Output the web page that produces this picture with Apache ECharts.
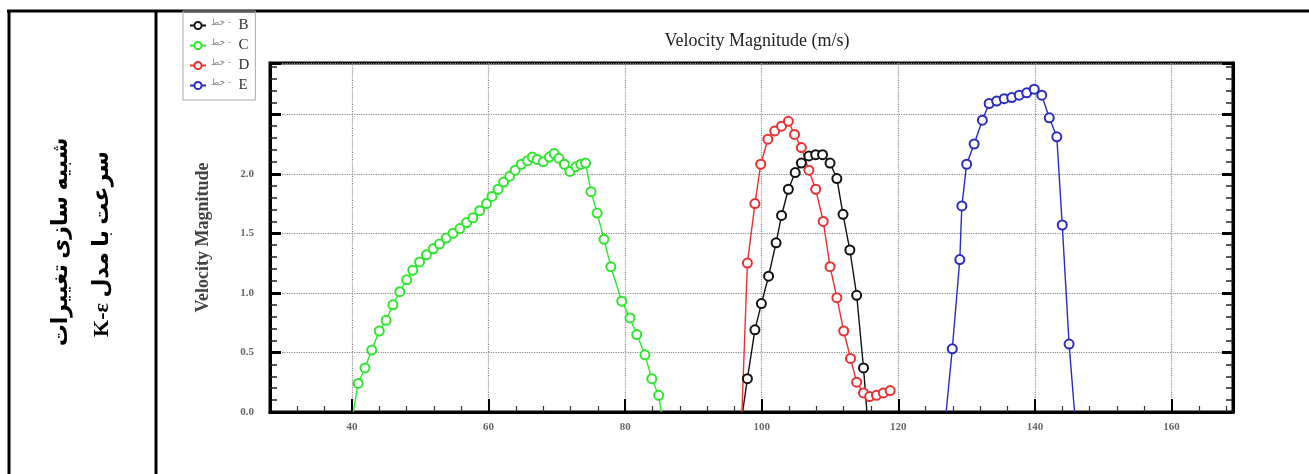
<!DOCTYPE html>
<html>
<head>
<meta charset="utf-8">
<script src="https://cdn.jsdelivr.net/npm/echarts@6/dist/echarts.min.js"></script>
<style>
  html, body { margin: 0; padding: 0; background: #fff; }
  #main { width: 1309px; height: 474px; }
</style>
</head>
<body>
<div id="main"></div>
<script>
// section B (black)
const bX = [97.2, 97.9, 99.0, 99.95, 101.0, 102.1, 102.9, 103.9, 104.9, 105.8, 106.9, 107.9, 108.9, 110.0, 111.0, 111.9, 112.9, 113.9, 114.9, 115.4];
const bY = [0.0, 0.28, 0.69, 0.91, 1.14, 1.42, 1.65, 1.87, 2.01, 2.09, 2.15, 2.16, 2.16, 2.09, 1.96, 1.66, 1.36, 0.98, 0.37, 0.0];

// section C (green)
const cX = [40.2, 40.9, 41.9, 42.9, 44.0, 45.0, 46.0, 47.0, 48.0, 48.9, 49.9, 50.9, 51.9, 52.8, 53.8, 54.8, 55.8, 56.8, 57.7, 58.7,
            59.7, 60.5, 61.4, 62.2, 63.1, 63.9, 64.8, 65.7, 66.4, 67.1, 68.0, 68.9, 69.6, 70.3, 71.1, 71.9, 72.8, 73.5, 74.2,
            75.0, 75.9, 76.9, 77.9, 79.5, 80.7, 81.7, 82.9, 83.9, 84.9, 85.3];
const cY = [0.0, 0.24, 0.37, 0.52, 0.68, 0.77, 0.90, 1.01, 1.11, 1.19, 1.26, 1.32, 1.37, 1.41, 1.46, 1.50, 1.54, 1.59, 1.63, 1.69,
            1.75, 1.81, 1.87, 1.93, 1.98, 2.03, 2.08, 2.11, 2.14, 2.12, 2.10, 2.14, 2.17, 2.13, 2.08, 2.02, 2.06, 2.08, 2.09,
            1.85, 1.67, 1.45, 1.22, 0.93, 0.79, 0.65, 0.48, 0.28, 0.14, 0.0];

// section D (red)
const dX = [97.1, 97.9, 99.0, 99.85, 100.9, 101.9, 102.9, 103.9, 104.8, 105.8, 106.9, 107.9, 109.0, 110.0, 111.0, 112.0, 113.0, 113.9, 114.9, 115.8, 116.8, 117.8, 118.8];
const dY = [0.0, 1.25, 1.75, 2.08, 2.29, 2.36, 2.40, 2.44, 2.33, 2.22, 2.03, 1.87, 1.60, 1.22, 0.96, 0.68, 0.45, 0.25, 0.16, 0.13, 0.14, 0.16, 0.18];

// section E (blue)
const eX = [127.0, 127.9, 129.0, 129.3, 130.0, 131.1, 132.3, 133.3, 134.4, 135.5, 136.6, 137.7, 138.8, 139.9, 141.0, 142.1, 143.2, 144.0, 145.0, 145.8];
const eY = [0.0, 0.53, 1.28, 1.73, 2.08, 2.25, 2.45, 2.59, 2.61, 2.63, 2.64, 2.66, 2.68, 2.71, 2.66, 2.47, 2.31, 1.57, 0.57, 0.0];

const seriesNames = ['B', 'C', 'D', 'E'];
const seriesColors = ['#111111', '#2ee62e', '#e83232', '#2b2bbf'];

const titleText = 'Velocity Magnitude (m/s)';
const yAxisTitle = 'Velocity Magnitude';
const sideLine1 = 'شبیه سازی تغییرات';
const sideLine2 = '\u202Bسرعت با مدل K-ε\u202C';
const legendPrefix = 'خط -';

const toPoints = (xs, ys) => xs.map((x, i) => {
    const item = { value: [x, ys[i]] };
    if (ys[i] === 0) item.symbol = 'none';
    return item;
});

const allData = [toPoints(bX, bY), toPoints(cX, cY), toPoints(dX, dY), toPoints(eX, eY)];

const myChart = echarts.init(document.getElementById('main'));

const valueAxisY = (position, showLabels) => ({
    type: 'value',
    position: position,
    min: 0,
    max: 2.93,
    interval: 0.5,
    axisLine: { show: true, lineStyle: { color: '#000', width: 3 } },
    axisTick: { show: true, inside: true, length: 11, lineStyle: { color: '#000', width: 3 } },
    minorTick: { show: true, splitNumber: 5, length: 7, lineStyle: { color: '#222', width: 1.5 } },
    splitLine: { show: showLabels, lineStyle: { color: '#8a8a8a', type: 'dotted', width: 1.2 } },
    axisLabel: {
        show: showLabels,
        margin: 16,
        fontFamily: 'Liberation Serif',
        fontSize: 11,
        fontWeight: 'bold',
        color: '#666',
        formatter: v => (v > 2.01 ? '' : v.toFixed(1))
    }
});

const option = {
    backgroundColor: '#fff',
    animation: false,
    title: {
        text: titleText,
        left: 752,
        top: 27,
        textAlign: 'center',
        textStyle: { fontFamily: 'Liberation Serif', fontSize: 18, fontWeight: 'normal', color: '#222' }
    },
    legend: {
        orient: 'vertical',
        left: 183,
        top: 11,
        width: 72,
        padding: [7, 6, 7, 6],
        itemGap: 5,
        itemWidth: 16,
        itemHeight: 9,
        borderColor: '#aaa',
        borderWidth: 1,
        data: seriesNames,
        formatter: name => '{p|' + legendPrefix + '} {n|' + name + '}',
        textStyle: {
            rich: {
                p: { fontSize: 9, color: '#888', fontFamily: 'DejaVu Sans', padding: [0, 0, 5, 0] },
                n: { fontSize: 15, color: '#333', fontFamily: 'Liberation Serif', padding: [0, 0, 0, 4] }
            }
        }
    },
    grid: {
        left: 270,
        top: 63,
        right: 76,
        bottom: 62,
        show: true,
        borderColor: '#000',
        borderWidth: 3,
        containLabel: false
    },
    xAxis: {
        type: 'value',
        min: 28,
        max: 169,
        splitNumber: 7,
        axisLine: { show: true, onZero: false, lineStyle: { color: '#000', width: 3 } },
        axisTick: { show: true, inside: true, length: 13, lineStyle: { color: '#000', width: 2 } },
        minorTick: { show: true, splitNumber: 5, length: 6, lineStyle: { color: '#333', width: 1.2 } },
        splitLine: { show: true, lineStyle: { color: '#8a8a8a', type: 'dotted', width: 1.2 } },
        axisLabel: {
            margin: 10,
            showMinLabel: false,
            showMaxLabel: false,
            fontFamily: 'Liberation Serif',
            fontSize: 11,
            fontWeight: 'bold',
            color: '#666'
        }
    },
    yAxis: [
        Object.assign(valueAxisY('left', true), {
            name: yAxisTitle,
            nameLocation: 'middle',
            nameGap: 58,
            nameTextStyle: { fontFamily: 'Liberation Serif', fontSize: 18, fontWeight: 'bold', color: '#444' }
        }),
        valueAxisY('right', false)
    ],
    graphic: [
        { type: 'line', shape: { x1: 7, y1: 11, x2: 1309, y2: 11 }, style: { stroke: '#000', lineWidth: 3 } },
        { type: 'line', shape: { x1: 9, y1: 10, x2: 9, y2: 474 }, style: { stroke: '#000', lineWidth: 3 } },
        { type: 'line', shape: { x1: 156, y1: 10, x2: 156, y2: 474 }, style: { stroke: '#000', lineWidth: 3 } },
        {
            type: 'text', x: 61, y: 242, rotation: Math.PI / 2,
            style: { text: sideLine1, font: 'bold 22px "Liberation Serif", "DejaVu Sans"', fill: '#000', textAlign: 'center', textVerticalAlign: 'middle' }
        },
        {
            type: 'text', x: 102, y: 244, rotation: Math.PI / 2,
            style: { text: sideLine2, font: 'bold 22px "Liberation Serif", "DejaVu Sans"', fill: '#000', textAlign: 'center', textVerticalAlign: 'middle' }
        }
    ],
    series: seriesNames.map((name, i) => ({
        name: name,
        type: 'line',
        data: allData[i],
        symbol: 'emptyCircle',
        symbolSize: 9,
        showAllSymbol: true,
        color: seriesColors[i],
        lineStyle: { width: 1.4, color: seriesColors[i] },
        itemStyle: { color: seriesColors[i], borderColor: seriesColors[i], borderWidth: 1.6 }
    }))
};

myChart.setOption(option);
</script>
</body>
</html>
